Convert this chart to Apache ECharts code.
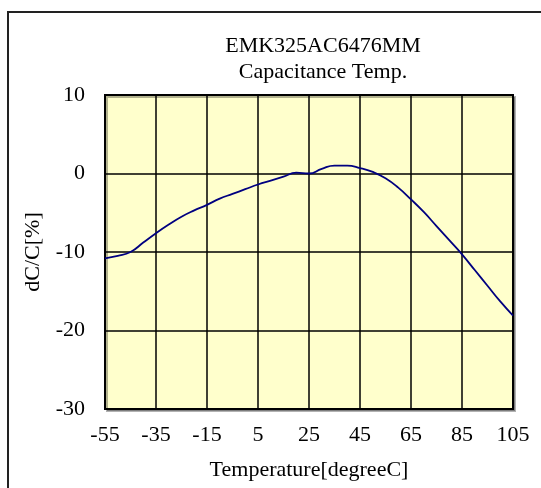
<!DOCTYPE html>
<html>
<head>
<meta charset="utf-8">
<script src="https://cdn.jsdelivr.net/npm/echarts@6/dist/echarts.min.js"></script>
<style>
  html, body { margin: 0; padding: 0; background: #fff; }
  #chart { width: 541px; height: 488px; }
</style>
</head>
<body>
<div id="chart"></div>
<script>
// 温度 (degreeC)
const temps = [-55, -50, -45, -40, -35, -30, -25, -20, -15, -10, -5, 0, 5, 10, 15, 20, 25,
  30, 35, 40, 45, 50, 55, 60, 65, 70, 75, 80, 85, 90, 95, 100, 105];
// dC/C (%)
const dcc = [-10.8, -10.5, -10.0, -8.8, -7.6, -6.5, -5.5, -4.7, -4.0, -3.2, -2.6, -2.0, -1.4, -0.9, -0.4, 0.1, 0.0,
  0.6, 1.0, 1.0, 0.7, 0.2, -0.6, -1.8, -3.3, -4.9, -6.7, -8.5, -10.3, -12.3, -14.3, -16.3, -18.1];

const titleLines = ['EMK325AC6476MM', 'Capacitance Temp.'];

const font = 'Liberation Serif';
const chart = echarts.init(document.getElementById('chart'));

chart.setOption({
  animation: false,
  title: {
    text: titleLines.join('\n'),
    left: 318,
    textAlign: 'center',
    top: 28,
    textStyle: { fontFamily: font, fontSize: 22, fontWeight: 'normal', color: '#000', lineHeight: 26 }
  },
  graphic: [
    {
      type: 'rect',
      shape: { x: 8, y: 12, width: 560, height: 520 },
      style: { fill: 'none', stroke: '#222', lineWidth: 2 },
      z: 100
    }
  ],
  grid: {
    left: 105, right: 28, top: 95, bottom: 79,
    show: true,
    backgroundColor: '#ffffcc',
    borderColor: '#000',
    borderWidth: 2,
    shadowColor: 'rgba(0,0,0,0.3)',
    shadowOffsetX: 2,
    shadowOffsetY: 2
  },
  xAxis: {
    type: 'value',
    min: -55, max: 105, interval: 20,
    name: 'Temperature[degreeC]',
    nameLocation: 'middle',
    nameGap: 50,
    nameTextStyle: { fontFamily: font, fontSize: 22, color: '#000' },
    axisLine: { onZero: false, lineStyle: { color: '#000', width: 2 } },
    axisTick: { show: false },
    axisLabel: { fontFamily: font, fontSize: 22, color: '#000', margin: 15 },
    splitLine: { show: true, lineStyle: { color: '#000', width: 1.5 } }
  },
  yAxis: {
    type: 'value',
    min: -30, max: 10, interval: 10,
    name: 'dC/C[%]',
    nameLocation: 'middle',
    nameGap: 61,
    nameRotate: 90,
    nameTextStyle: { fontFamily: font, fontSize: 22, color: '#000' },
    axisLine: { onZero: false, lineStyle: { color: '#000', width: 2 } },
    axisTick: { show: false },
    axisLabel: { fontFamily: font, fontSize: 22, color: '#000', margin: 20 },
    splitLine: { show: true, lineStyle: { color: '#000', width: 1.5 } }
  },
  series: [{
    type: 'line',
    data: temps.map((t, i) => [t, dcc[i]]),
    smooth: 0.5,
    showSymbol: false,
    lineStyle: { color: '#000080', width: 1.8 },
    clip: true
  }]
});
</script>
</body>
</html>
